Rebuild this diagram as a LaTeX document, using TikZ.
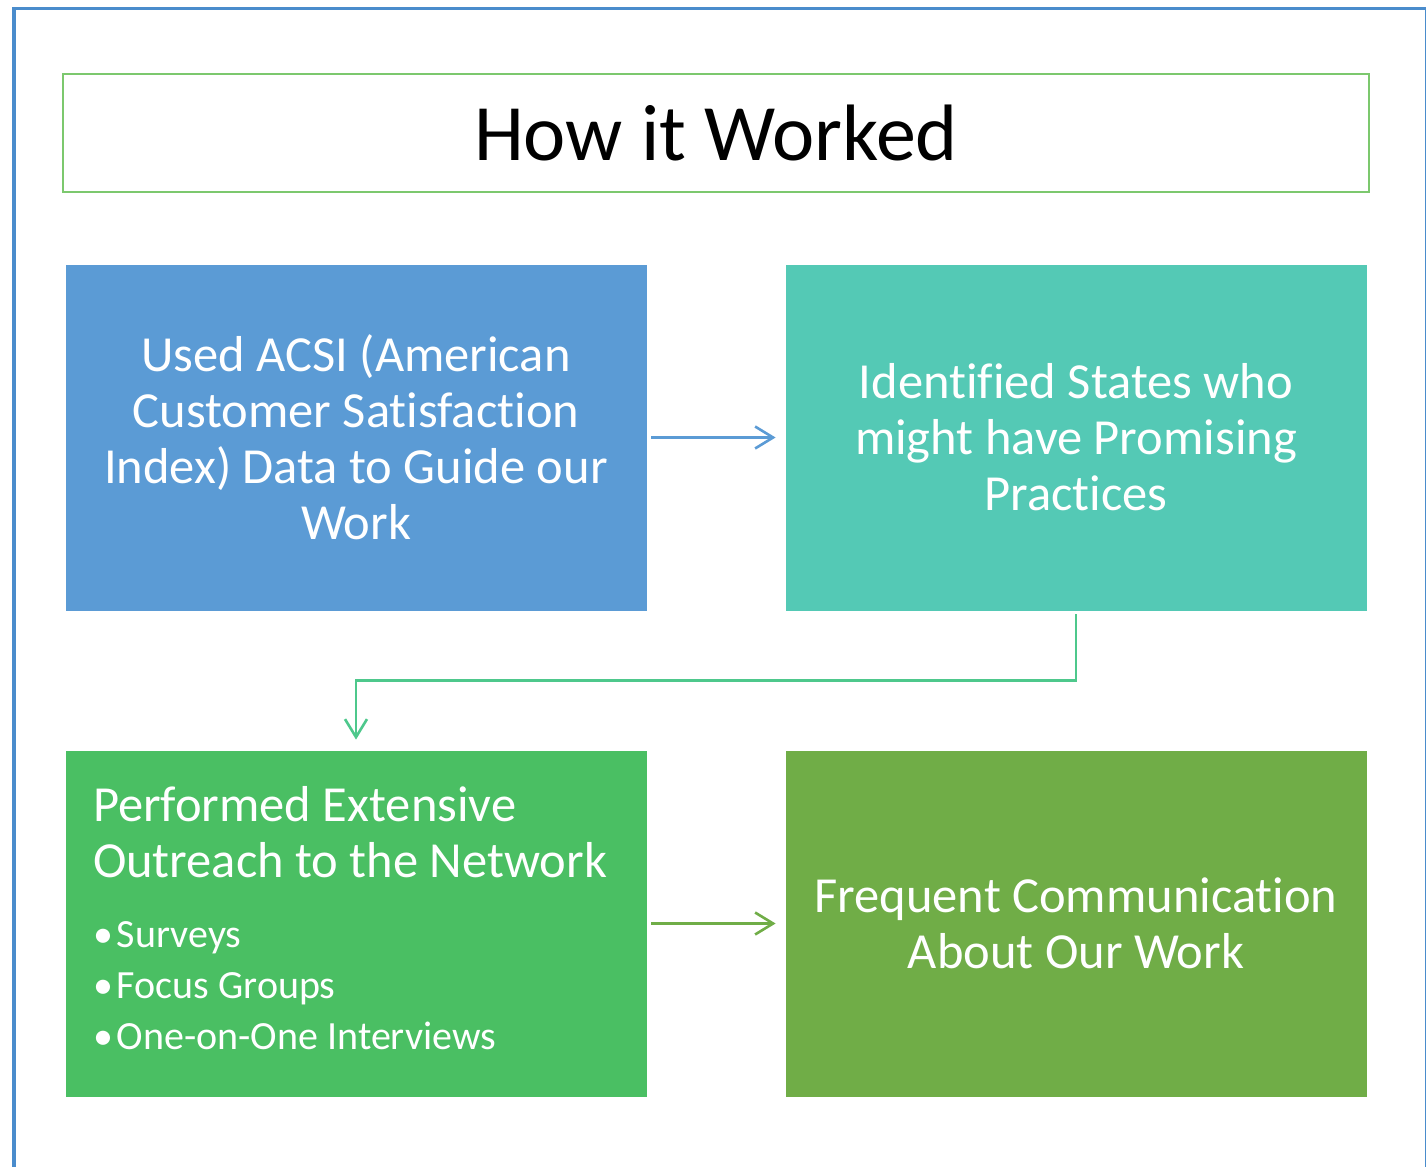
\documentclass[tikz,border=0pt]{standalone}
\usepackage{fontspec}
\setmainfont[Ligatures=NoCommon]{Carlito}
\usetikzlibrary{arrows.meta}
\definecolor{frameblue}{RGB}{74,140,204}
\definecolor{titlegreen}{RGB}{124,200,110}
\definecolor{boxblue}{RGB}{91,155,213}
\definecolor{boxteal}{RGB}{84,201,181}
\definecolor{boxgreen}{RGB}{74,191,99}
\definecolor{boxolive}{RGB}{112,173,71}
\definecolor{linkteal}{RGB}{78,200,140}
\tikzset{
  stepbox/.style={rectangle, draw=white, line width=0.8pt, minimum width=582pt, minimum height=347pt,
    inner sep=0pt, text=white, align=center, font=\fontsize{50.5}{56}\selectfont},
  link/.style={line width=2.6pt, -{Straight Barb[length=18pt, width=22pt, line width=2.6pt]}},
}
\begin{document}
\begin{tikzpicture}[x=1pt, y=-1pt]
  \useasboundingbox (0,0) rectangle (1427,1167);
  % outer frame
  \draw[frameblue, line width=4pt] (14,1167) -- (14,8.5);
  \draw[frameblue, line width=3pt] (12,8.5) -- (1426,8.5);
  \draw[frameblue, line width=1.5pt] (1425.5,7) -- (1425.5,1167);

  % title
  \node[draw=titlegreen, line width=1.5pt, minimum width=1306pt, minimum height=118pt, inner sep=0pt,
    font=\fontsize{80}{96}\selectfont] (title) at (716,133) {How it Worked};

  % steps
  \node[stepbox, fill=boxblue] (acsi) at (356,437.5)
    {Used ACSI (American\\Customer Satisfaction\\Index) Data to Guide our\\Work};
  \node[stepbox, fill=boxteal] (states) at (1076,437.5)
    {Identified States who\\might have Promising\\Practices};
  \node[stepbox, fill=boxgreen, align=left] (outreach) at (356,923.5)
    {\begin{minipage}{526pt}\raggedright
      \fontsize{50.5}{56}\selectfont Performed Extensive\par Outreach to the Network\par
      \vspace{19pt}\fontsize{40}{51}\selectfont
      \textbullet\hspace{4pt}Surveys\par
      \textbullet\hspace{4pt}Focus Groups\par
      \textbullet\hspace{4pt}One-on-One Interviews\par
      \vspace{10pt}
    \end{minipage}};
  \node[stepbox, fill=boxolive] (comm) at (1076,923.5)
    {Frequent Communication\\About Our Work};

  % connectors
  \draw[link, boxblue] ([xshift=4pt]acsi.east) -- ([xshift=-9pt]states.west);
  \draw[link, linkteal] ([yshift=-3pt]states.south) -- ++(0,66) -| ([yshift=10pt]outreach.north);
  \draw[link, boxolive] ([xshift=4pt]outreach.east) -- ([xshift=-9pt]comm.west);
\end{tikzpicture}
\end{document}
